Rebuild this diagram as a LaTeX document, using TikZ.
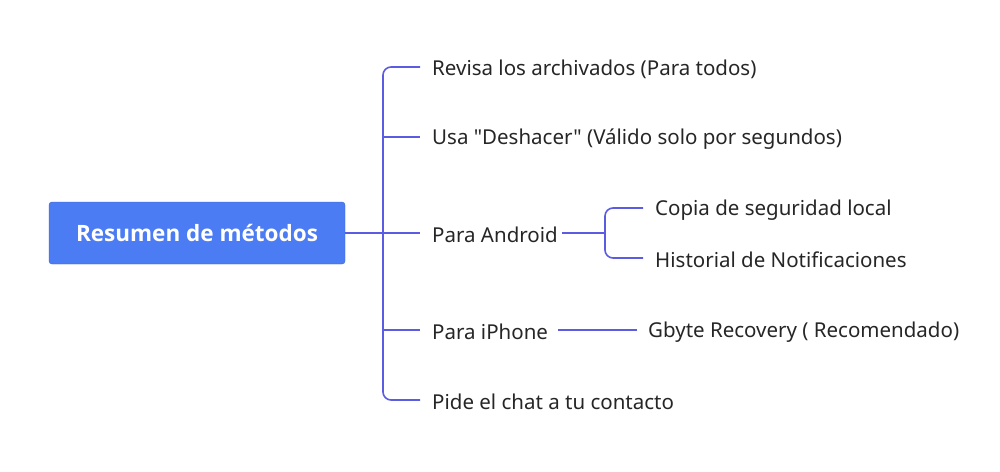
\documentclass[tikz,border=0pt]{standalone}
\usepackage{fontspec}
\newfontfamily\nf{Noto Sans}
\newfontfamily\rootfont{Open Sans}
\begin{document}
\begin{tikzpicture}[x=1pt,y=-1pt,
  ln/.style={draw=lc,line width=1.6pt,rounded corners=8pt},
  lbl/.style={anchor=west,inner sep=0pt,font=\nf\fontsize{20.5}{22}\selectfont,text=black!85}]
\definecolor{lc}{HTML}{5B5CE2}
\definecolor{rootc}{HTML}{4C7CF3}
\useasboundingbox (0,0) rectangle (1000,471);
\node[lbl] (a) at (432,69) {Revisa los archivados (Para todos)};
\node[lbl] (b) at (432,139) {Usa "Deshacer" (Válido solo por segundos)};
\node[lbl] (c) at (432,235) {Para Android};
\node[lbl] (d) at (432,332) {Para iPhone};
\node[lbl] (e) at (432,402) {Pide el chat a tu contacto};
\node[lbl] (c1) at (655,210) {Copia de seguridad local};
\node[lbl] (c2) at (655,260) {Historial de Notificaciones};
\node[lbl] (d1) at (648,332) {Gbyte Recovery ( Recomendado)};
\node[draw=rootc!80!black,fill=rootc,rounded corners=3pt,minimum width=296pt,minimum height=62pt,text=white,font=\rootfont\fontsize{22.5}{24}\selectfont\bfseries] (root) at (197,233) {Resumen de métodos};
\coordinate (t) at (383,233);
\draw[ln] (root.east) -- (420,233);
\draw[ln] (420,67) -- (383,67) -- (t);
\draw[ln] (420,400) -- (383,400) -- (t);
\draw[ln,rounded corners=0pt] (383,137) -- (420,137);
\draw[ln,rounded corners=0pt] (383,330) -- (420,330);
\coordinate (s) at (605,233);
\draw[ln] (c.east |- s) ++(4,0) -- (s);
\draw[ln] (643,208) -- (605,208) -- (s);
\draw[ln] (643,258) -- (605,258) -- (s);
\draw[ln] (558,330) -- (637,330);
\end{tikzpicture}
\end{document}
